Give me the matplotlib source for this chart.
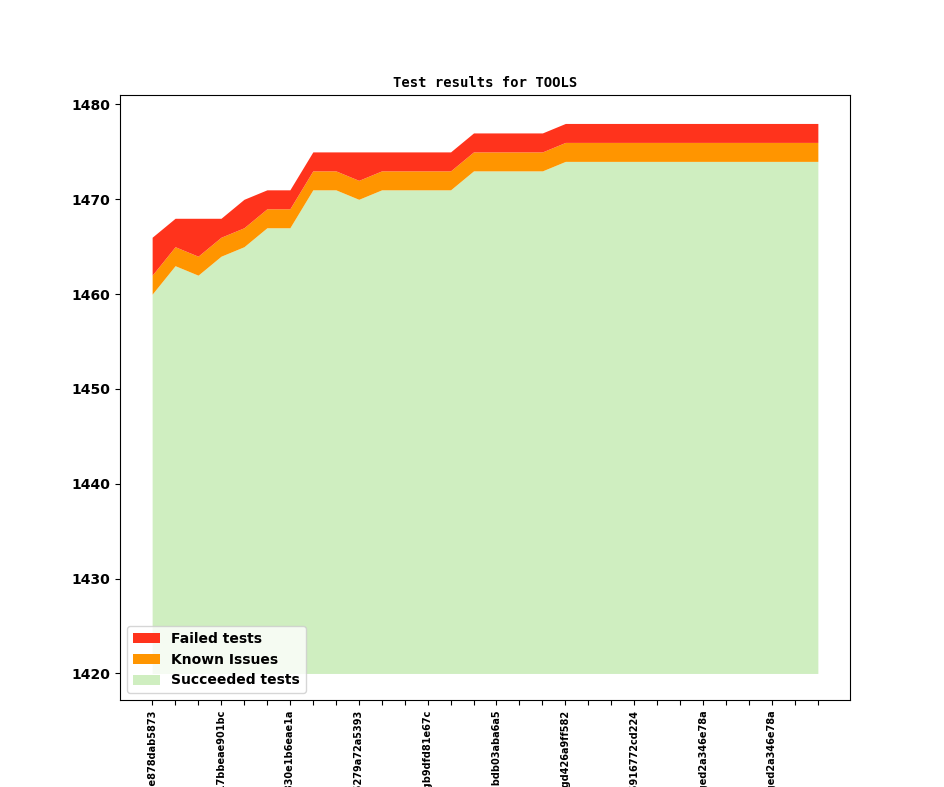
import numpy as np
import matplotlib.pyplot as plt

succeeded = [1460, 1463, 1462, 1464, 1465, 1467, 1467, 1471, 1471, 1470,
             1471, 1471, 1471, 1471, 1473, 1473, 1473, 1473] + [1474] * 12
known = [2] * 30
total = [1466, 1468, 1468, 1468, 1470, 1471, 1471, 1475, 1475, 1475,
         1475, 1475, 1475, 1475, 1477, 1477, 1477, 1477] + [1478] * 12
failed = [t - s - k for t, s, k in zip(total, succeeded, known)]

commit_labels = ["0.9.1-g1e878dab5873", "0.9.1-g17bbeae901bc", "0.9.2-g830e1b6eae1a",
                 "0.9.2-g5279a72a5393", "0.9.3-gb9dfd81e67c", "0.9.3-gbdb03aba6a5",
                 "0.9.4-gd426a9ff582", "0.9.4-g5916772cd224", "0.9.5-ged2a346e78a",
                 "0.9.5-ged2a346e78a"]
base = 1420

x = np.arange(len(succeeded))
s = np.array(succeeded)
k = s + np.array(known)
f = k + np.array(failed)

fig = plt.figure(figsize=(9.44, 7.87), dpi=100)
ax = fig.add_axes([120 / 944, 87 / 787, 730 / 944, 605 / 787])
ax.fill_between(x, base, s, color="#cfeec0", linewidth=0, label="Succeeded tests")
ax.fill_between(x, s, k, color="#ff9500", linewidth=0, label="Known Issues")
ax.fill_between(x, k, f, color="#ff331c", linewidth=0, label="Failed tests")

ax.set_xlim(-1.4, len(x) - 1 + 1.4)
ax.set_ylim(1417.2, 1481)
ax.set_xticks(x)
labels = [""] * len(x)
for i, lab in enumerate(commit_labels):
    labels[i * 3] = lab
ax.set_xticklabels(labels, rotation=90, fontsize=7, fontweight="bold")
for t in ax.get_yticklabels():
    t.set_fontweight("bold")
ax.set_title("Test results for TOOLS", family="monospace", fontweight="bold", fontsize=10)

h, l = ax.get_legend_handles_labels()
ax.legend(h[::-1], l[::-1], loc="lower left", prop={"weight": "bold"})

fig.savefig("out.png", dpi=100)
